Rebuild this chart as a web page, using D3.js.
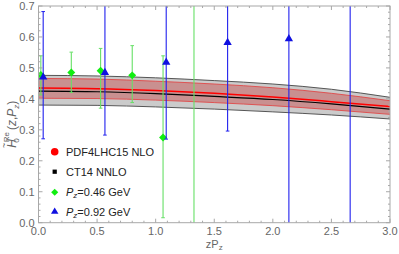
<!DOCTYPE html>
<html><head><meta charset="utf-8">
<script src="https://cdn.jsdelivr.net/npm/d3@7"></script>
<style>body{margin:0;background:#fff}svg{display:block}text{font-family:"Liberation Sans",Arial,sans-serif}</style>
</head><body><svg id="c" width="399" height="254"></svg>
<script>
// Theory bands
const zGrid = [0, 0.5, 1.0, 1.5, 2.0, 2.5, 3.0];
const ctCentral = [0.425, 0.423, 0.417, 0.408, 0.398, 0.384, 0.367];
const ctUpper   = [0.476, 0.474, 0.468, 0.459, 0.448, 0.431, 0.405];
const ctLower   = [0.380, 0.379, 0.374, 0.367, 0.358, 0.348, 0.335];
const pdfCentral = [0.435, 0.433, 0.427, 0.418, 0.406, 0.391, 0.375];
const pdfUpper   = [0.466, 0.464, 0.457, 0.448, 0.436, 0.418, 0.394];
const pdfLower   = [0.402, 0.401, 0.396, 0.388, 0.378, 0.365, 0.350];
// Lattice data Pz=0.46 GeV
const zGreen    = [0.02, 0.28, 0.53, 0.80, 1.063, 1.327];
const valGreen  = [0.477, 0.485, 0.491, 0.476, 0.275, 0.80];
const lowGreen  = [0.413, 0.421, 0.37, 0.388, 0.016, -0.2];
const highGreen = [0.539, 0.551, 0.563, 0.572, 0.539, 1.8];
// Lattice data Pz=0.92 GeV
const zBlue    = [0.04, 0.567, 1.09, 1.614, 2.137, 2.66];
const valBlue  = [0.470, 0.485, 0.518, 0.582, 0.594, 0.90];
const lowBlue  = [0.271, 0.283, 0.270, 0.296, -0.3, -0.3];
const highBlue = [0.682, 0.95, 0.95, 0.95, 1.2, 1.5];
const xTicks = [0, 0.5, 1.0, 1.5, 2.0, 2.5, 3.0];
const yTicks = [0, 0.1, 0.2, 0.3, 0.4, 0.5, 0.6, 0.7];
const legendLabels = ["PDF4LHC15 NLO", "CT14 NNLO", "=0.46 GeV", "=0.92 GeV"];

const svg = d3.select("#c");
const L = 38.5, R = 390, T = 6, B = 222.7;
const x = d3.scaleLinear().domain([0, 3]).range([L, R]);
const y = d3.scaleLinear().domain([0, 0.7]).range([B, T]);

svg.append("defs").append("clipPath").attr("id","clip")
  .append("rect").attr("x",L).attr("y",T).attr("width",R-L).attr("height",B-T);
const g = svg.append("g").attr("clip-path","url(#clip)");

const idx = d3.range(zGrid.length);
const curve = d3.curveMonotoneX;
const area = (up, lo) => d3.area().curve(curve).x(i=>x(zGrid[i])).y0(i=>y(lo[i])).y1(i=>y(up[i]))(idx);
const line = (arr) => d3.line().curve(curve).x(i=>x(zGrid[i])).y(i=>y(arr[i]))(idx);

g.append("path").attr("d", area(ctUpper, ctLower)).attr("fill","#cbcbcb");
g.append("path").attr("d", line(ctUpper)).attr("fill","none").attr("stroke","#555").attr("stroke-width",1);
g.append("path").attr("d", line(ctLower)).attr("fill","none").attr("stroke","#555").attr("stroke-width",1);
g.append("path").attr("d", area(pdfUpper, pdfLower)).attr("fill","#c99090");
g.append("path").attr("d", line(pdfUpper)).attr("fill","none").attr("stroke","#e04848").attr("stroke-width",0.9);
g.append("path").attr("d", line(pdfLower)).attr("fill","none").attr("stroke","#e04848").attr("stroke-width",0.9);
g.append("path").attr("d", line(pdfCentral)).attr("fill","none").attr("stroke","#ff0000").attr("stroke-width",1.5);
g.append("path").attr("d", line(ctCentral)).attr("fill","none").attr("stroke","#000").attr("stroke-width",1.2);

function errorBars(zs, vals, lows, highs, color, shape, msize, mcolor){
  zs.forEach((z,i)=>{
    const cx = x(z);
    g.append("line").attr("x1",cx).attr("x2",cx).attr("y1",y(lows[i])).attr("y2",y(highs[i]))
      .attr("stroke",color).attr("stroke-width",1.1);
    [lows[i], highs[i]].forEach(v=>{
      g.append("line").attr("x1",cx-1.8).attr("x2",cx+1.8).attr("y1",y(v)).attr("y2",y(v))
        .attr("stroke",color).attr("stroke-width",1);
    });
    g.append("path").attr("d", d3.symbol(shape, msize)())
      .attr("transform",`translate(${cx},${y(vals[i])})`).attr("fill",mcolor);
  });
}
errorBars(zGreen, valGreen, lowGreen, highGreen, "#66e066", d3.symbolDiamond2 || d3.symbolDiamond, 40, "#11ee11");
errorBars(zBlue, valBlue, lowBlue, highBlue, "#2020ee", d3.symbolTriangle, 30, "#1010e0");

// Frame
const frame = svg.append("g");
frame.append("rect").attr("x",L).attr("y",T).attr("width",R-L).attr("height",B-T)
  .attr("fill","none").attr("stroke","#a8a8a8").attr("stroke-width",1);
const tickCol = "#a8a8a8";
d3.range(0, 3.0001, 0.1).forEach(v=>{
  const major = Math.abs(v*2 - Math.round(v*2)) < 1e-6;
  const len = major ? 4 : 2;
  const px = x(v);
  frame.append("line").attr("x1",px).attr("x2",px).attr("y1",B).attr("y2",B-len).attr("stroke",tickCol);
  frame.append("line").attr("x1",px).attr("x2",px).attr("y1",T).attr("y2",T+len).attr("stroke",tickCol);
});
d3.range(0, 0.7001, 0.02).forEach(v=>{
  const major = Math.abs(v*10 - Math.round(v*10)) < 1e-6;
  const len = major ? 4 : 2;
  const py = y(v);
  frame.append("line").attr("x1",L).attr("x2",L+len).attr("y1",py).attr("y2",py).attr("stroke",tickCol);
  frame.append("line").attr("x1",R).attr("x2",R-len).attr("y1",py).attr("y2",py).attr("stroke",tickCol);
});
const fmt = d3.format(".1f");
xTicks.forEach(v=>{
  svg.append("text").attr("x",x(v)).attr("y",B+12).attr("text-anchor","middle")
    .attr("font-size",11).attr("fill","#666").text(fmt(v));
});
yTicks.forEach(v=>{
  svg.append("text").attr("x",L-4).attr("y",y(v)+4).attr("text-anchor","end")
    .attr("font-size",11).attr("fill","#666").text(fmt(v));
});

// Axis labels
const xl = svg.append("text").attr("x",x(1.5)).attr("y",248).attr("text-anchor","middle")
  .attr("font-size",11).attr("fill","#666");
xl.append("tspan").text("zP");
xl.append("tspan").attr("font-size",8).attr("dy",2).text("z");

const yl = svg.append("text").attr("transform","translate(16,148) rotate(-90)")
  .attr("text-anchor","start").attr("font-size",12).attr("fill","#666");
yl.append("tspan").attr("font-style","italic").text("H");
yl.append("tspan").attr("font-size",9).attr("dx",-9).attr("dy",-9).text("~");
yl.append("tspan").attr("font-size",8).attr("dx",0).attr("dy",11.5).text("0");
yl.append("tspan").attr("font-size",8).attr("dy",-10).attr("dx",-4).text("Re");
yl.append("tspan").attr("dy",7.5).attr("dx",2).text("(");
yl.append("tspan").attr("font-style","italic").text("z");
yl.append("tspan").text(",");
yl.append("tspan").attr("font-style","italic").text("P");
yl.append("tspan").attr("font-size",8).attr("font-style","italic").attr("dy",2.5).text("z");
yl.append("tspan").attr("dy",-2.5).text(")");

// Legend
const lg = svg.append("g");
const ly = [151.7, 171.7, 192.3, 211.7];
const lsym = [d3.symbolCircle, d3.symbolSquare, d3.symbolDiamond2 || d3.symbolDiamond, d3.symbolTriangle];
const lsize = [45, 18, 32, 24];
const lcol = ["#ff0000", "#000", "#11ee11", "#1010e0"];
ly.forEach((yy,i)=>{
  lg.append("path").attr("d", d3.symbol(lsym[i], lsize[i])()).attr("transform",`translate(54.7,${yy})`).attr("fill",lcol[i]);
  const t = lg.append("text").attr("x",66).attr("y",yy+4).attr("font-size",11).attr("fill","#222");
  if(i<2){ t.text(legendLabels[i]); }
  else {
    t.append("tspan").attr("font-style","italic").text("P");
    t.append("tspan").attr("font-style","italic").attr("font-size",8).attr("dy",2).text("z");
    t.append("tspan").attr("dy",-2).text(legendLabels[i]);
  }
});
</script></body></html>
